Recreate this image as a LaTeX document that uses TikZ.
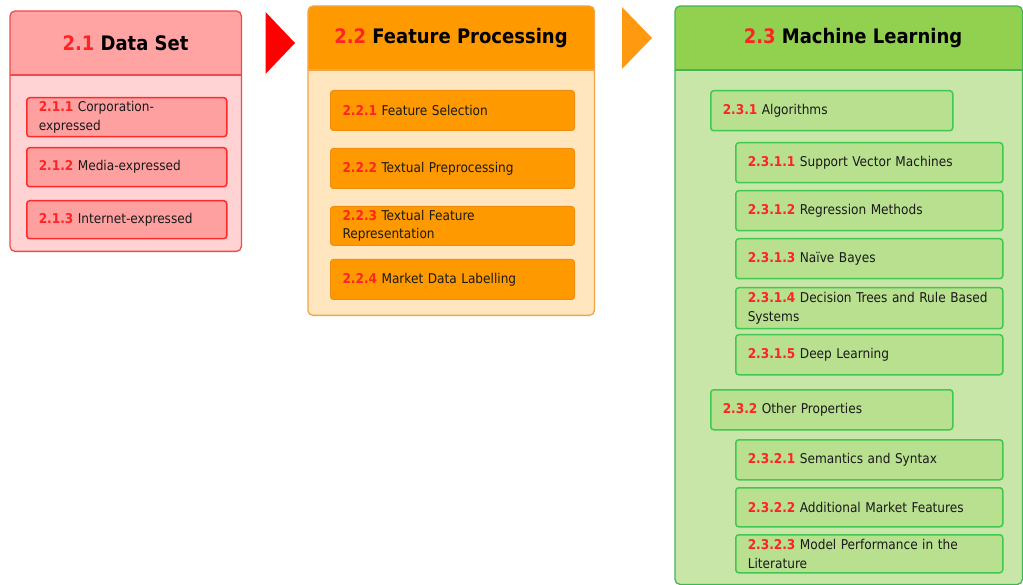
\documentclass[tikz,border=0pt]{standalone}
\usepackage{fontspec}
\setmainfont{DejaVu Sans Condensed}
\usetikzlibrary{calc}

% palette
\definecolor{numred}{HTML}{FF2424}
\definecolor{txt}{HTML}{1A1A1A}
\definecolor{headA}{HTML}{FFA3A3}
\definecolor{bodyA}{HTML}{FFD3D3}
\definecolor{lineA}{HTML}{F24A4A}
\definecolor{subAfill}{HTML}{FFA0A0}
\definecolor{subAline}{HTML}{FF2A2A}
\definecolor{arrowA}{HTML}{FF0000}
\definecolor{headB}{HTML}{FF9900}
\definecolor{bodyB}{HTML}{FFE6BE}
\definecolor{lineB}{HTML}{F2A548}
\definecolor{subBfill}{HTML}{FF9900}
\definecolor{subBline}{HTML}{F08C10}
\definecolor{arrowB}{HTML}{FF9A10}
\definecolor{headC}{HTML}{92D050}
\definecolor{bodyC}{HTML}{C9E6A9}
\definecolor{lineC}{HTML}{45B455}
\definecolor{subCfill}{HTML}{B9E08F}
\definecolor{subCline}{HTML}{40C850}

\newcommand\secnum[1]{\textcolor{numred}{\bfseries #1}}
\newcommand\subfont{\fontsize{13.5}{18.5}\selectfont}
\newcommand\titlefont{\fontsize{20}{24}\selectfont\bfseries}
% a line that is allowed to run into the right padding of its box
\newcommand\oneline[1]{\makebox[0pt][l]{#1}}

% panel: name, x1, y1, x2, y2, header bottom, head colour, body colour, line colour
\newcommand\drawpanel[9]{%
  \node[panelframe, fill=#8, minimum width={#4-#2}, minimum height={#5-#3}] (#1) at (#2,#3) {};
  \fill[#7] (#2,#6) [rounded corners=5] -- (#2,#3) -- (#4,#3) [sharp corners] -- (#4,#6) -- cycle;
  \draw[#9, line width=1.3pt] (#2,#6) -- (#4,#6);
  \draw[#9, line width=1.3pt, rounded corners=5] (#1.north west) rectangle (#1.south east);
}

\begin{document}
\begin{tikzpicture}[x=1pt, y=-1pt,
  panelframe/.style={anchor=north west, inner sep=0pt, rounded corners=5, draw=none},
  titletext/.style={font=\titlefont, text=black, inner sep=0pt},
  subbox/.style={anchor=north west, rounded corners=3, inner xsep=12pt, inner ysep=1pt,
                 align=left, font=\subfont, text=txt},
  subA/.style={subbox, fill=subAfill, draw=subAline, line width=1.5pt, text width=176pt},
  subB/.style={subbox, fill=subBfill, draw=subBline, line width=1pt, text width=220pt},
  subC/.style={subbox, fill=subCfill, draw=subCline, line width=1.5pt},
  subCa/.style={subC, text width=218pt},
  subCb/.style={subC, text width=243pt},
]
\useasboundingbox (0,0) rectangle (1023,585);

% ---- 2.1 Data Set ----
\drawpanel{pA}{10}{11}{241}{251}{75}{headA}{bodyA}{lineA}
\node[titletext] (tA) at (125.5,43) {\secnum{2.1} Data Set};
\node[subA, minimum height=39] (a1) at (26,97)  {\secnum{2.1.1} Corporation-\\expressed};
\node[subA, minimum height=39] (a2) at (26,147) {\secnum{2.1.2} Media-expressed};
\node[subA, minimum height=38] (a3) at (26,200) {\secnum{2.1.3} Internet-expressed};

% arrow to the next stage
\fill[arrowA] (265.5,12) -- (295,43) -- (265.5,74) -- cycle;

% ---- 2.2 Feature Processing ----
\drawpanel{pB}{308}{6}{594}{315}{70}{headB}{bodyB}{lineB}
\node[titletext] (tB) at (451,38) {\secnum{2.2} Feature Processing};
\node[subB, minimum height=40] (b1) at (330,90)  {\secnum{2.2.1} Feature Selection};
\node[subB, minimum height=40] (b2) at (330,148) {\secnum{2.2.2} Textual Preprocessing};
\node[subB, minimum height=39] (b3) at (330,206) {\secnum{2.2.3} Textual Feature\\Representation};
\node[subB, minimum height=40] (b4) at (330,259) {\secnum{2.2.4} Market Data Labelling};

% arrow to the next stage
\fill[arrowB] (622,7) -- (652,38) -- (622,69) -- cycle;

% ---- 2.3 Machine Learning ----
\drawpanel{pC}{675}{6}{1022}{584}{70}{headC}{bodyC}{lineC}
\node[titletext] (tC) at (853,38) {\secnum{2.3} Machine Learning};
\node[subCa, minimum height=40] (c1) at (710,90) {\secnum{2.3.1} Algorithms};
\node[subCb, minimum height=40] (c11) at (735,142) {\secnum{2.3.1.1} Support Vector Machines};
\node[subCb, minimum height=40] (c12) at (735,190) {\secnum{2.3.1.2} Regression Methods};
\node[subCb, minimum height=40] (c13) at (735,238) {\secnum{2.3.1.3} Naïve Bayes};
\node[subCb, minimum height=41] (c14) at (735,287) {\oneline{\secnum{2.3.1.4} Decision Trees and Rule Based}\\Systems};
\node[subCb, minimum height=40] (c15) at (735,334) {\secnum{2.3.1.5} Deep Learning};
\node[subCa, minimum height=40] (c2) at (710,389) {\secnum{2.3.2} Other Properties};
\node[subCb, minimum height=40] (c21) at (735,439) {\secnum{2.3.2.1} Semantics and Syntax};
\node[subCb, minimum height=39] (c22) at (735,487) {\secnum{2.3.2.2} Additional Market Features};
\node[subCb, minimum height=38] (c23) at (735,534) {\secnum{2.3.2.3} Model Performance in the\\Literature};
\end{tikzpicture}
\end{document}
